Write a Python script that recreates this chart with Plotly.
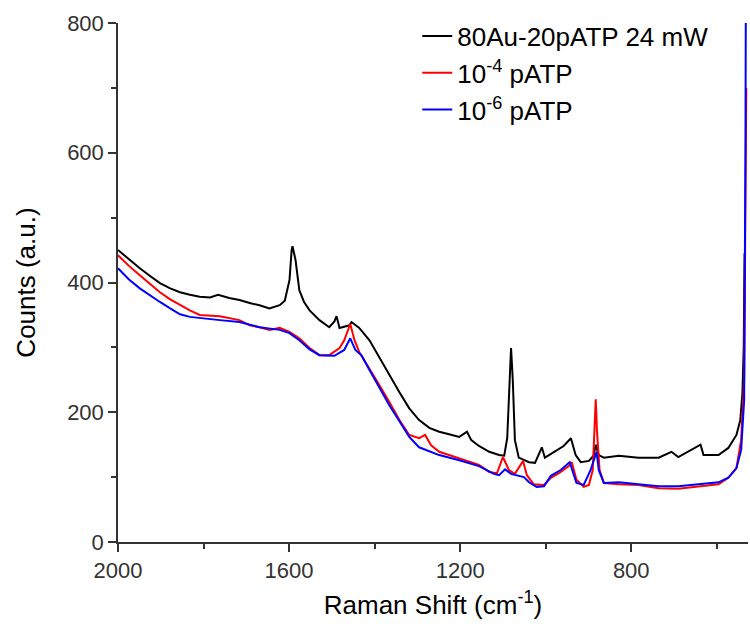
import plotly.graph_objects as go

# Raman shift (cm-1) and counts
x_black = [2000, 1975, 1949, 1925, 1902, 1878, 1855, 1832, 1809, 1785, 1766, 1740, 1716, 1690,
           1669, 1646, 1622, 1610, 1599, 1594, 1592, 1585, 1576, 1565, 1552, 1529, 1506, 1494,
           1489, 1482, 1459, 1454, 1436, 1412, 1389, 1366, 1342, 1319, 1296, 1272, 1249, 1226,
           1202, 1184, 1174, 1156, 1132, 1109, 1097, 1090, 1085, 1081, 1077, 1072, 1063, 1039,
           1025, 1009, 1002, 981, 958, 941, 930, 918, 899, 888, 883, 876, 864, 829, 783, 736,
           706, 690, 638, 631, 596, 573, 554, 545, 540, 537, 535]
y_black = [450, 436, 422, 410, 399, 391, 385, 381, 378, 377, 381, 376, 373, 368,
           365, 360, 365, 372, 404, 450, 456, 435, 388, 370, 357, 342, 331, 340,
           348, 330, 334, 339, 330, 311, 284, 257, 231, 206, 188, 176, 170, 166,
           162, 170, 157, 148, 139, 134, 133, 160, 250, 299, 250, 157, 130, 123,
           122, 146, 130, 139, 148, 160, 134, 123, 125, 133, 150, 134, 130, 133, 130, 130,
           139, 131, 150, 134, 134, 145, 165, 188, 230, 300, 445]

x_red = [2000, 1975, 1949, 1925, 1902, 1878, 1855, 1832, 1809, 1762, 1716, 1692, 1669, 1646,
         1622, 1599, 1576, 1552, 1529, 1506, 1482, 1471, 1457, 1447, 1436, 1412, 1389, 1366,
         1342, 1319, 1296, 1282, 1268, 1249, 1202, 1156, 1132, 1114, 1100, 1086, 1072, 1053,
         1044, 1028, 1004, 988, 969, 946, 939, 928, 911, 899, 890, 886, 883, 880, 874, 864,
         829, 783, 736, 690, 643, 596, 573, 554, 543, 536, 531]
y_red = [442, 426, 411, 397, 385, 374, 365, 357, 350, 348, 342, 334, 331, 327,
         330, 324, 314, 299, 288, 288, 299, 311, 336, 311, 293, 268, 242, 216,
         188, 165, 160, 165, 149, 139, 129, 119, 108, 106, 131, 111, 105, 125,
         103, 89, 88, 99, 106, 117, 123, 96, 85, 88, 111, 180, 220, 170, 111, 91,
         89, 88, 83, 82, 85, 89, 99, 114, 157, 250, 700]

x_blue = [2000, 1975, 1949, 1925, 1902, 1878, 1855, 1832, 1809, 1762, 1716, 1669, 1622, 1599,
          1576, 1552, 1529, 1494, 1471, 1457, 1445, 1431, 1412, 1389, 1366, 1342, 1319, 1296,
          1249, 1202, 1156, 1121, 1109, 1095, 1081, 1051, 1039, 1021, 1004, 988, 965, 944,
          928, 911, 895, 881, 876, 864, 829, 783, 736, 690, 643, 596, 573, 554, 543, 536,
          533, 532]
y_blue = [422, 405, 391, 380, 370, 360, 351, 347, 345, 342, 339, 331, 327, 322,
          311, 297, 288, 287, 296, 314, 296, 288, 265, 237, 211, 186, 162, 146,
          134, 126, 117, 105, 103, 112, 105, 100, 92, 85, 86, 102, 111, 123,
          91, 88, 111, 139, 111, 91, 92, 89, 86, 86, 89, 92, 99, 114, 142, 219,
          600, 850]

names = ["80Au-20pATP 24 mW", "10<sup>-4</sup> pATP", "10<sup>-6</sup> pATP"]
colors = ["black", "#ff0000", "#0000ff"]

fig = go.Figure()
for i, (xs, ys) in enumerate([(x_black, y_black), (x_red, y_red), (x_blue, y_blue)]):
    fig.add_trace(go.Scatter(x=xs, y=ys, mode="lines", name=names[i],
                             line=dict(color=colors[i], width=2)))

axis_font = dict(family="Liberation Sans, Arial, sans-serif", size=22, color="#333")
fig.update_layout(
    width=750, height=627,
    margin=dict(l=118, r=2, t=23, b=85),
    plot_bgcolor="white", paper_bgcolor="white",
    font=dict(family="Liberation Sans, Arial, sans-serif", color="black"),
    showlegend=True,
    legend=dict(x=0.475, y=1.02, xanchor="left", yanchor="top",
                font=dict(size=26, color="black"), bgcolor="rgba(0,0,0,0)"),
    xaxis=dict(range=[2000, 527], tickvals=[2000, 1600, 1200, 800],
               ticks="outside", ticklen=8, tickwidth=1.5, tickcolor="#333",
               minor=dict(tickvals=[1800, 1400, 1000, 600], ticks="outside", ticklen=5,
                          tickwidth=1.5, tickcolor="#333"),
               showline=True, linecolor="#333", linewidth=1.5, showgrid=False, zeroline=False,
               tickfont=axis_font,
               title=dict(text="Raman Shift (cm<sup>-1</sup>)", font=dict(size=26, color="black"),
                          standoff=14)),
    yaxis=dict(range=[0, 800], dtick=200,
               ticks="outside", ticklen=8, tickwidth=1.5, tickcolor="#333",
               minor=dict(dtick=100, ticks="outside", ticklen=5, tickwidth=1.5, tickcolor="#333"),
               showline=True, linecolor="#333", linewidth=1.5, showgrid=False, zeroline=False,
               tickfont=axis_font,
               title=dict(text="Counts (a.u.)", font=dict(size=26, color="black"), standoff=24)),
)

fig.write_html("out.html", config={"displayModeBar": False},
               post_script="document.body.style.margin='0';")
